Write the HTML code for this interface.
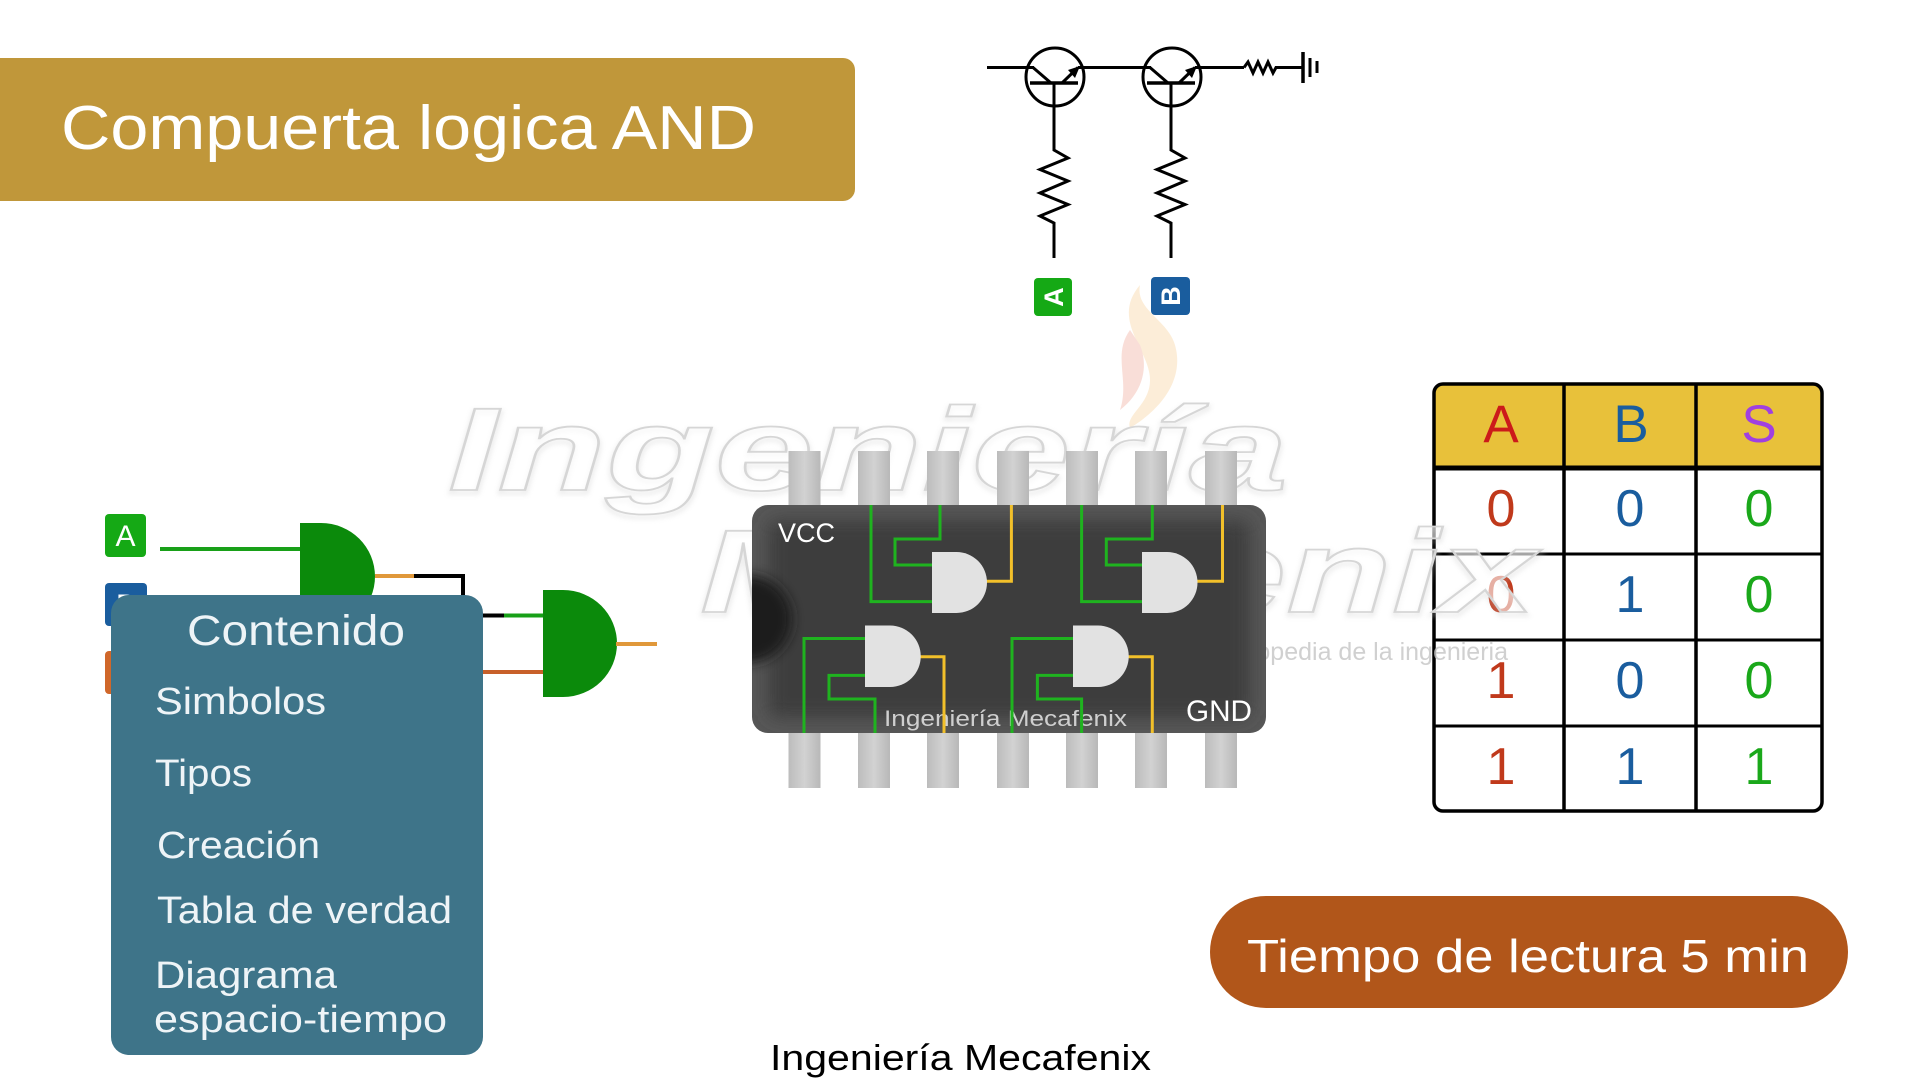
<!DOCTYPE html>
<html><head><meta charset="utf-8"><style>
html,body{margin:0;padding:0;background:#fff;}
svg{display:block;}
text{font-family:"Liberation Sans",sans-serif;}
</style></head><body>
<svg width="1920" height="1080" viewBox="0 0 1920 1080" xmlns="http://www.w3.org/2000/svg">
<defs>
<linearGradient id="pin" x1="0" x2="1" y1="0" y2="0">
<stop offset="0" stop-color="#bcbcbc"/><stop offset="0.5" stop-color="#d2d2d2"/><stop offset="1" stop-color="#b8b8b8"/>
</linearGradient>
<filter id="blur8" x="-20%" y="-20%" width="140%" height="140%"><feGaussianBlur stdDeviation="9"/></filter>
<filter id="blur5" x="-50%" y="-50%" width="200%" height="200%"><feGaussianBlur stdDeviation="6"/></filter>
<filter id="wshadow" x="-5%" y="-5%" width="110%" height="120%"><feGaussianBlur stdDeviation="2.5"/></filter>
<clipPath id="chipclip"><rect x="752" y="505" width="514" height="228" rx="16"/></clipPath>
</defs>
<rect width="1920" height="1080" fill="#fff"/>

<!-- Title -->
<rect x="-20" y="58" width="875" height="143" rx="12" fill="#C0973A"/>
<text x="61" y="149" font-size="62" fill="#fff" textLength="695" lengthAdjust="spacingAndGlyphs">Compuerta logica AND</text>

<!-- faint flame logo -->
<g opacity="0.18">
<path d="M1140,285 C1110,320 1150,350 1150,380 C1150,405 1125,415 1130,428 C1160,410 1185,380 1175,345 C1168,320 1135,310 1140,285 Z" fill="#f0a030"/>
<path d="M1130,330 C1112,355 1130,380 1120,410 C1140,395 1150,370 1140,345 Z" fill="#e05030"/>
</g>

<!-- Truth table -->
<rect x="1434" y="384" width="388" height="427" rx="9" fill="#fff"/>
<path d="M1434,468 V393 a9,9 0 0 1 9,-9 H1813 a9,9 0 0 1 9,9 V468 Z" fill="#E8C13A"/>
<rect x="1434" y="384" width="388" height="427" rx="9" fill="none" stroke="#000" stroke-width="3.5"/>
<g stroke="#000">
<line x1="1434" y1="468" x2="1822" y2="468" stroke-width="5"/>
<line x1="1434" y1="554" x2="1822" y2="554" stroke-width="3"/>
<line x1="1434" y1="640" x2="1822" y2="640" stroke-width="3"/>
<line x1="1434" y1="726" x2="1822" y2="726" stroke-width="3"/>
<line x1="1564" y1="384" x2="1564" y2="811" stroke-width="3.5"/>
<line x1="1696" y1="384" x2="1696" y2="811" stroke-width="3.5"/>
</g>
<g font-size="53" text-anchor="middle">
<text x="1501" y="442" fill="#cc1a1a">A</text>
<text x="1631" y="442" fill="#1a5d9e">B</text>
<text x="1759" y="442" fill="#a040e0">S</text>
</g>
<g font-size="52" text-anchor="middle">
<g fill="#c0391b"><text x="1501" y="526">0</text><text x="1501" y="612">0</text><text x="1501" y="698">1</text><text x="1501" y="784">1</text></g>
<g fill="#1a5d9e"><text x="1630" y="526">0</text><text x="1630" y="612">1</text><text x="1630" y="698">0</text><text x="1630" y="784">1</text></g>
<g fill="#1aa81a"><text x="1759" y="526">0</text><text x="1759" y="612">0</text><text x="1759" y="698">0</text><text x="1759" y="784">1</text></g>
</g>

<!-- Watermark -->
<g font-family="Liberation Serif, serif" font-style="italic" font-weight="bold">
<text x="448" y="493" font-size="118" fill="none" stroke="#c8c8c8" stroke-width="4" opacity="0.3" filter="url(#wshadow)" textLength="840" lengthAdjust="spacingAndGlyphs">Ingeniería</text>
<text x="448" y="490" font-size="118" fill="#ffffff" fill-opacity="0.6" stroke="#d6d6d6" stroke-width="1.8" textLength="840" lengthAdjust="spacingAndGlyphs">Ingeniería</text>
<text x="700" y="615" font-size="118" fill="none" stroke="#c8c8c8" stroke-width="4" opacity="0.3" filter="url(#wshadow)" textLength="836" lengthAdjust="spacingAndGlyphs">Mecafenix</text>
<text x="700" y="612" font-size="118" fill="#ffffff" fill-opacity="0.6" stroke="#d6d6d6" stroke-width="1.8" textLength="836" lengthAdjust="spacingAndGlyphs">Mecafenix</text>
</g>
<text x="1508" y="660" font-size="25" fill="#c4c4c4" fill-opacity="0.8" text-anchor="end">enciclopedia de la ingenieria</text>

<!-- Transistor schematic -->
<g stroke="#000" stroke-width="3" fill="none" stroke-linejoin="miter">
<line x1="987" y1="67.5" x2="1034" y2="67.5"/>
<line x1="1078" y1="67.5" x2="1151" y2="67.5"/>
<line x1="1195" y1="67.5" x2="1244" y2="67.5"/>
<polyline points="1244,67.5 1248,62 1253,73 1258,62 1263,73 1268,62 1273,73 1276,67.5 1303,67.5"/>
<line x1="1303" y1="52" x2="1303" y2="83" stroke-width="3.5"/>
<line x1="1310" y1="58" x2="1310" y2="77" stroke-width="3"/>
<line x1="1317" y1="61" x2="1317" y2="73" stroke-width="3"/>
<circle cx="1055" cy="77" r="29"/>
<line x1="1033" y1="67.5" x2="1051" y2="83"/>
<line x1="1030" y1="83" x2="1078" y2="83" stroke-width="3.5"/>
<line x1="1062" y1="83" x2="1078" y2="67.5"/>
<polyline points="1054,83 1054,150 1068,158 1040,169.5 1068,181 1040,193 1068,204.5 1040,216 1054,223 1054,258"/>
<circle cx="1172" cy="77" r="29"/>
<line x1="1150" y1="67.5" x2="1168" y2="83"/>
<line x1="1147" y1="83" x2="1195" y2="83" stroke-width="3.5"/>
<line x1="1179" y1="83" x2="1195" y2="67.5"/>
<polyline points="1171,83 1171,150 1185,158 1157,169.5 1185,181 1157,193 1185,204.5 1157,216 1171,223 1171,258"/>
</g>
<polygon points="1080,66 1068,70 1075,78" fill="#000"/>
<polygon points="1197,66 1185,70 1192,78" fill="#000"/>
<rect x="1034" y="278" width="38" height="38" rx="4" fill="#15a915"/>
<text transform="translate(1063,297) rotate(-90)" x="0" y="0" font-size="27" font-weight="bold" fill="#fff" text-anchor="middle">A</text>
<rect x="1151" y="277" width="39" height="38" rx="4" fill="#1a5d9e"/>
<text transform="translate(1180,296) rotate(-90)" x="0" y="0" font-size="27" font-weight="bold" fill="#fff" text-anchor="middle">B</text>

<!-- Left circuit -->
<rect x="105" y="514" width="41" height="43" rx="4" fill="#15a915"/>
<text x="125.5" y="546" font-size="30" fill="#fff" text-anchor="middle">A</text>
<rect x="105" y="583" width="42" height="43" rx="4" fill="#1a5d9e"/>
<text x="126" y="615" font-size="30" fill="#fff" text-anchor="middle">B</text>
<rect x="105" y="651" width="42" height="43" rx="4" fill="#d0672a"/>
<line x1="160" y1="549" x2="302" y2="549" stroke="#18a018" stroke-width="4"/>
<path d="M300,523 h21 a54,53.5 0 0 1 0,107 h-21 z" fill="#0b8a0b"/>
<line x1="375" y1="576" x2="414" y2="576" stroke="#e0983a" stroke-width="4"/>
<polyline points="414,576 463,576 463,615.5 504,615.5" fill="none" stroke="#000" stroke-width="4"/>
<line x1="504" y1="615.5" x2="545" y2="615.5" stroke="#18a018" stroke-width="4"/>
<line x1="470" y1="672" x2="545" y2="672" stroke="#c8602a" stroke-width="4"/>
<path d="M543,590 h20 a54,53.5 0 0 1 0,107 h-20 z" fill="#0b8a0b"/>
<line x1="616" y1="644" x2="657" y2="644" stroke="#e0983a" stroke-width="4"/>

<!-- Contenido box -->
<rect x="111" y="595" width="372" height="460" rx="18" fill="#3e7489"/>
<g fill="#eef4f7">
<text x="187" y="645" font-size="43" textLength="218" lengthAdjust="spacingAndGlyphs">Contenido</text>
<text x="155" y="714" font-size="38" textLength="171" lengthAdjust="spacingAndGlyphs">Simbolos</text>
<text x="155" y="786" font-size="38" textLength="97" lengthAdjust="spacingAndGlyphs">Tipos</text>
<text x="157" y="858" font-size="38" textLength="163" lengthAdjust="spacingAndGlyphs">Creación</text>
<text x="157" y="923" font-size="38" textLength="295" lengthAdjust="spacingAndGlyphs">Tabla de verdad</text>
<text x="155" y="988" font-size="38" textLength="182" lengthAdjust="spacingAndGlyphs">Diagrama</text>
<text x="154" y="1032" font-size="38" textLength="293" lengthAdjust="spacingAndGlyphs">espacio-tiempo</text>
</g>

<!-- Chip pins -->
<g fill="url(#pin)">
<rect x="788.5" y="451" width="32" height="60"/><rect x="858" y="451" width="32" height="60"/><rect x="927" y="451" width="32" height="60"/><rect x="997" y="451" width="32" height="60"/><rect x="1066" y="451" width="32" height="60"/><rect x="1135" y="451" width="32" height="60"/><rect x="1205" y="451" width="32" height="60"/>
<rect x="788.5" y="728" width="32" height="60"/><rect x="858" y="728" width="32" height="60"/><rect x="927" y="728" width="32" height="60"/><rect x="997" y="728" width="32" height="60"/><rect x="1066" y="728" width="32" height="60"/><rect x="1135" y="728" width="32" height="60"/><rect x="1205" y="728" width="32" height="60"/>
</g>
<!-- Chip body -->
<rect x="752" y="505" width="514" height="228" rx="16" fill="#575757"/>
<g clip-path="url(#chipclip)">
<rect x="768" y="520" width="482" height="198" rx="10" fill="#3d3d3d" filter="url(#blur8)"/>
<circle cx="748" cy="619" r="44" fill="#1c1c1c" filter="url(#blur5)"/>
</g>
<text x="778" y="542" font-size="27" fill="#fff" textLength="57" lengthAdjust="spacingAndGlyphs">VCC</text>
<text x="1186" y="721" font-size="30" fill="#fff" textLength="66" lengthAdjust="spacingAndGlyphs">GND</text>
<text x="884" y="726" font-size="22" fill="#cfcfcf" textLength="243" lengthAdjust="spacingAndGlyphs">Ingeniería Mecafenix</text>
<g fill="none" stroke-width="3">
<g stroke="#1fb31f">
<polyline points="871,505 871,601.6 934,601.6"/>
<polyline points="940,505 940,539 895,539 895,565 934,565"/>
<polyline points="1081.6,505 1081.6,601.6 1144,601.6"/>
<polyline points="1152.3,505 1152.3,539 1106.3,539 1106.3,565 1144,565"/>
<polyline points="804,733 804,638.5 867,638.5"/>
<polyline points="875,733 875,699 829,699 829,675.4 867,675.4"/>
<polyline points="1012,733 1012,638.5 1075,638.5"/>
<polyline points="1081.6,733 1081.6,699 1037.4,699 1037.4,675.4 1075,675.4"/>
</g>
<g stroke="#f2c02a">
<polyline points="985,581.3 1011.4,581.3 1011.4,505"/>
<polyline points="1196,581.3 1222.5,581.3 1222.5,505"/>
<polyline points="919,656.7 944,656.7 944,733"/>
<polyline points="1127,656.7 1152.3,656.7 1152.3,733"/>
</g>
</g>
<g fill="#e2e2e2">
<path d="M932,552 h24.5 a30.5,30.5 0 0 1 0,61 h-24.5 z"/>
<path d="M1142,552 h25 a30.5,30.5 0 0 1 0,61 h-25 z"/>
<path d="M865,625.5 h25 a30.75,30.75 0 0 1 0,61.5 h-25 z"/>
<path d="M1073,625.5 h25 a30.75,30.75 0 0 1 0,61.5 h-25 z"/>
</g>

<!-- Reading time pill -->
<rect x="1210" y="896" width="638" height="112" rx="56" fill="#B1561A"/>
<text x="1247" y="972" font-size="46" fill="#fff" textLength="562" lengthAdjust="spacingAndGlyphs">Tiempo de lectura 5 min</text>

<!-- Footer -->
<text x="770" y="1070" font-size="36" fill="#000" textLength="381" lengthAdjust="spacingAndGlyphs">Ingeniería Mecafenix</text>
</svg>
</body></html>
